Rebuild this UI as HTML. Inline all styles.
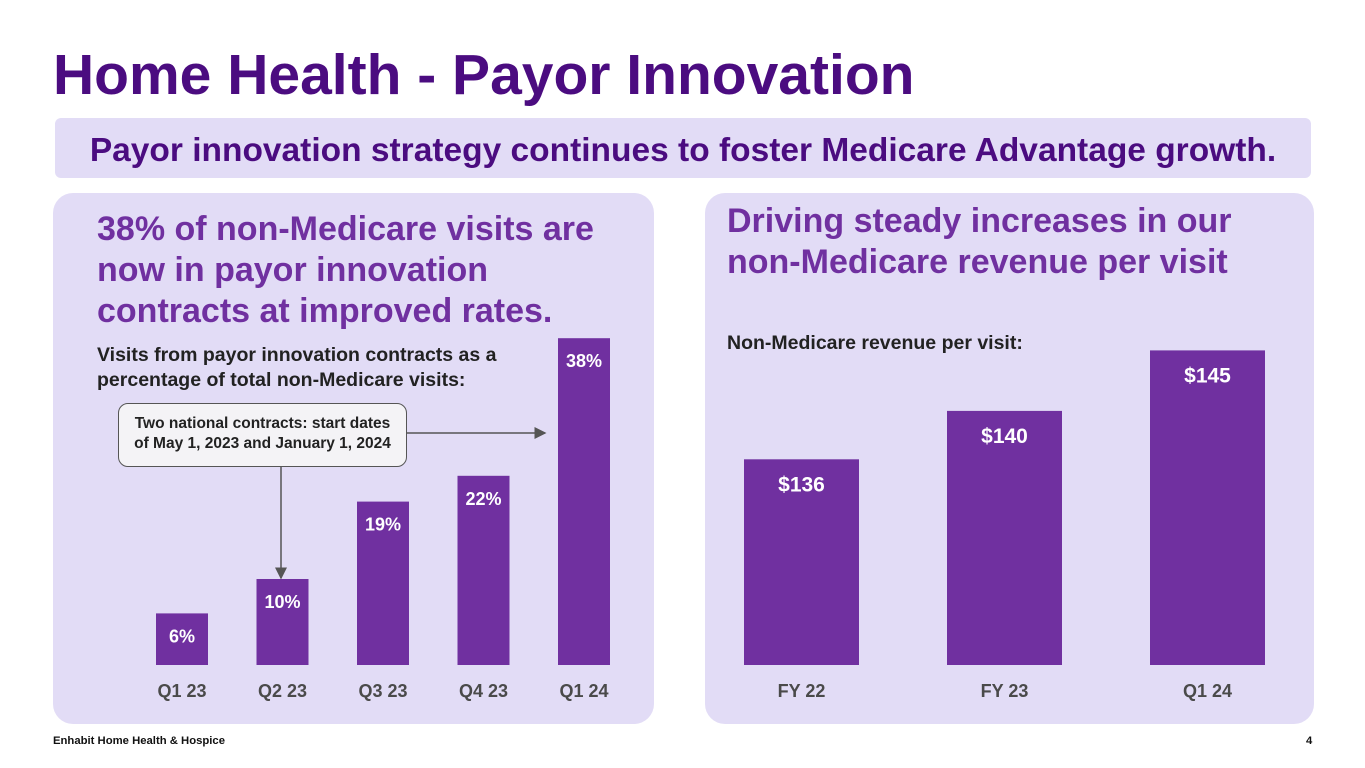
<!DOCTYPE html>
<html><head><meta charset="utf-8"><style>
body{margin:0;width:1365px;height:768px;background:#fff;font-family:"Liberation Sans",sans-serif;position:relative;overflow:hidden}
.a{position:absolute}
.t{font-weight:bold}
</style></head><body>
<div class="a t" style="left:53px;top:42px;font-size:57px;color:#4b0c80">Home Health - Payor Innovation</div>
<div class="a" style="left:55px;top:118px;width:1256px;height:60px;background:#e2dcf6;border-radius:6px"></div>
<div class="a t" style="left:55px;top:132px;width:1256px;text-align:center;font-size:33.5px;color:#4b0c80;white-space:nowrap">Payor innovation strategy continues to foster Medicare Advantage growth.</div>
<div class="a" style="left:53px;top:193px;width:601px;height:531px;background:#e2dcf6;border-radius:20px"></div>
<div class="a" style="left:705px;top:193px;width:609px;height:531px;background:#e2dcf6;border-radius:20px"></div>
<div class="a t" style="left:97px;top:209px;font-size:34px;line-height:41px;color:#7030a0;white-space:nowrap">38% of non-Medicare visits are<br>now in payor innovation<br>contracts at improved rates.</div>
<div class="a t" style="left:727px;top:201px;font-size:34px;line-height:41px;color:#7030a0;white-space:nowrap">Driving steady increases in our<br>non-Medicare revenue per visit</div>
<div class="a t" style="left:97px;top:343px;font-size:19.5px;line-height:25px;color:#222;white-space:nowrap">Visits from payor innovation contracts as a<br>percentage of total non-Medicare visits:</div>
<div class="a t" style="left:727px;top:332px;font-size:19.5px;color:#222">Non-Medicare revenue per visit:</div>
<svg class="a" style="left:0;top:0" width="1365" height="768" id="chart">
<defs><marker id="ar" markerWidth="8" markerHeight="8" refX="7" refY="4" orient="auto"><path d="M0,0 L8,4 L0,8z" fill="#555"/></marker></defs>
<line x1="407" y1="433" x2="545" y2="433" stroke="#555" stroke-width="1.5" marker-end="url(#ar)"/>
<line x1="281" y1="467" x2="281" y2="578" stroke="#555" stroke-width="1.5" marker-end="url(#ar)"/>
</svg>
<div class="a t" style="left:118px;top:403px;width:289px;height:64px;border:1.5px solid #555;border-radius:10px;background:#f4f3f6;font-size:15.5px;line-height:20px;text-align:center;box-sizing:border-box;padding-top:10px;color:#222;white-space:nowrap">Two national contracts: start dates<br>of May 1, 2023 and January 1, 2024</div>
<div class="a t" style="left:53px;top:735px;font-size:11.3px;color:#111">Enhabit Home Health &amp; Hospice</div>
<div class="a t" style="left:1306px;top:735px;font-size:11.3px;color:#111">4</div>
<script>
const leftCats=["Q1 23","Q2 23","Q3 23","Q4 23","Q1 24"];
const leftVals=[6,10,19,22,38];
const leftLabels=["6%","10%","19%","22%","38%"];
const rightCats=["FY 22","FY 23","Q1 24"];
const rightVals=[136,140,145];
const rightLabels=["$136","$140","$145"];
const svg=document.getElementById('chart');const NS="http://www.w3.org/2000/svg";
const base=665;
function draw(cats,vals,labels,x0,step,bw,yScale,fs,prefix){
 cats.forEach((c,i)=>{
  const x=x0+i*step, y=yScale(vals[i]);
  const r=document.createElementNS(NS,'rect');
  r.setAttribute('x',x);r.setAttribute('y',y);r.setAttribute('width',bw);r.setAttribute('height',base-y);r.setAttribute('fill','#7030a0');
  
  
  svg.insertBefore(r,svg.firstChild.nextSibling);
  const t=document.createElementNS(NS,'text');
  t.setAttribute('x',x+bw/2);t.setAttribute('y',y+fs+11);t.setAttribute('text-anchor','middle');t.setAttribute('fill','#fff');t.setAttribute('font-weight','bold');t.setAttribute('font-size',fs);
  t.textContent=labels[i];
  
  
  svg.appendChild(t);
  const l=document.createElementNS(NS,'text');
  l.setAttribute('x',x+bw/2);l.setAttribute('y',697);l.setAttribute('text-anchor','middle');l.setAttribute('fill','#4a4a4a');l.setAttribute('font-weight','bold');l.setAttribute('font-size',18);
  l.textContent=c;
  
  
  svg.appendChild(l);
 });
}
draw(leftCats,leftVals,leftLabels,156,100.5,52,v=>base-v*8.6,18,'left');
draw(rightCats,rightVals,rightLabels,744,203,115,v=>base-(v-119)*12.1,21,'right');
</script>
</body></html>
